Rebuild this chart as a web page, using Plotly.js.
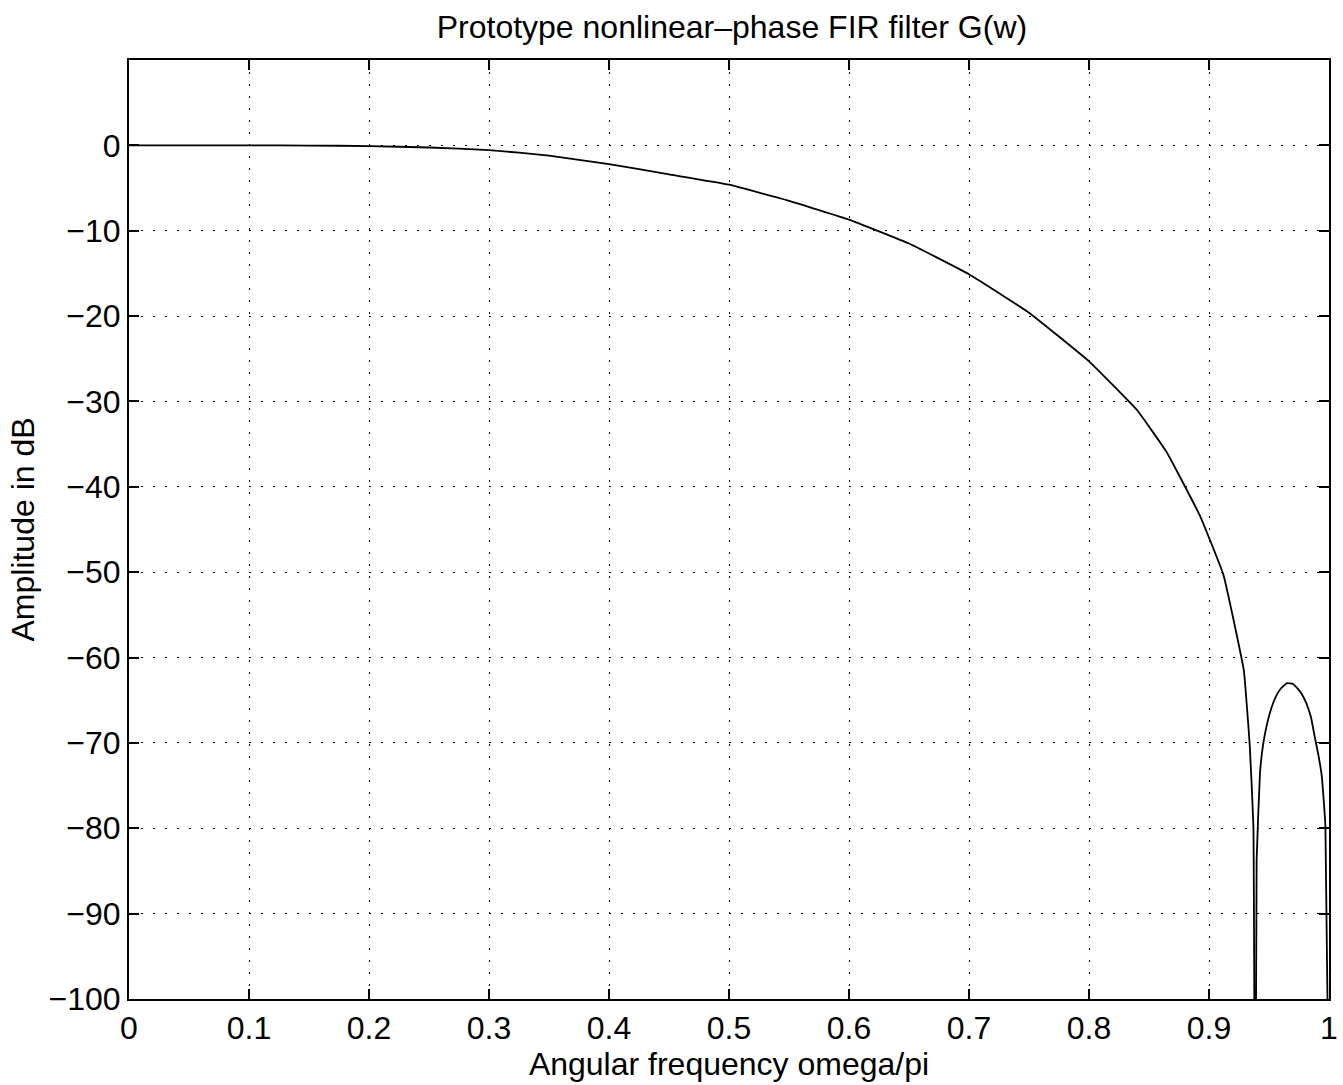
<!DOCTYPE html>
<html>
<head>
<meta charset="utf-8">
<script src="https://cdn.plot.ly/plotly-3.0.1.min.js"></script>
<style>
html, body { margin: 0; padding: 0; background: #fff; }
#chart { width: 1343px; height: 1085px; }
</style>
</head>
<body>
<div id="chart"></div>
<script>
// Normalized angular frequency (omega/pi)
const freq = [0, 0.05, 0.1, 0.15, 0.2, 0.25, 0.3, 0.35, 0.4, 0.45, 0.5, 0.55, 0.6, 0.65, 0.7,
  0.75, 0.8, 0.84, 0.865, 0.8925, 0.912, 0.929, 0.934, 0.937, 0.9385, 0.9397, 0.9425, 0.945,
  0.948, 0.952, 0.956, 0.96, 0.965, 0.97, 0.973, 0.977, 0.981, 0.985, 0.988, 0.991, 0.994,
  0.997, 1.0];
// Amplitude in dB
const ampDb = [0, 0, 0, -0.02, -0.08, -0.25, -0.55, -1.2, -2.2, -3.4, -4.6, -6.5, -8.7, -11.5, -15.1,
  -19.6, -25.3, -31.0, -36.0, -43.4, -50.3, -61.5, -70.4, -79.7, -130, -83.7, -73.5, -70.3,
  -68.0, -65.9, -64.5, -63.6, -63.0, -63.1, -63.5, -64.2, -65.3, -67.0, -69.2, -71.3, -73.9,
  -79.7, -115];

const xTickVals = [0, 0.1, 0.2, 0.3, 0.4, 0.5, 0.6, 0.7, 0.8, 0.9, 1];
const xTickText = ['0', '0.1', '0.2', '0.3', '0.4', '0.5', '0.6', '0.7', '0.8', '0.9', '1'];
const yTickVals = [-100, -90, -80, -70, -60, -50, -40, -30, -20, -10, 0];
const yTickText = ['\u2212100', '\u221290', '\u221280', '\u221270', '\u221260', '\u221250', '\u221240', '\u221230', '\u221220', '\u221210', '0'];

const titleText = 'Prototype nonlinear\u2013phase FIR filter G(w)';
const xTitle = 'Angular frequency omega/pi';
const yTitle = 'Amplitude in dB';

const FONT = '"Liberation Sans", Arial, Helvetica, sans-serif';

const trace = {
  x: freq, y: ampDb, type: 'scatter', mode: 'lines',
  line: { color: '#000', width: 1.8, shape: 'spline', smoothing: 0.3 },
  hoverinfo: 'skip'
};

const axisCommon = {
  showline: true, linecolor: '#000', linewidth: 2, mirror: 'ticks',
  ticks: 'inside', ticklen: 10, tickwidth: 2, tickcolor: '#000',
  showgrid: true, gridcolor: '#000', gridwidth: 1, griddash: '1.5px,10.5px',
  zeroline: false,
  tickfont: { family: FONT, size: 32, color: '#000' }
};

const layout = {
  width: 1343, height: 1085,
  paper_bgcolor: '#fff', plot_bgcolor: '#fff',
  margin: { l: 129, r: 14, t: 60, b: 86 },
  showlegend: false,
  font: { family: FONT, color: '#000' },
  title: { text: titleText, font: { family: FONT, size: 32, color: '#000' },
    x: 0.545, xanchor: 'center', y: 0.975, yanchor: 'middle' },
  xaxis: Object.assign({}, axisCommon, {
    range: [0, 1], tickvals: xTickVals, ticktext: xTickText,
    ticklabelstandoff: 0,
    title: { text: xTitle, font: { family: FONT, size: 32, color: '#000' }, standoff: 2 }
  }),
  yaxis: Object.assign({}, axisCommon, {
    range: [-100, 10], tickvals: yTickVals, ticktext: yTickText,
    ticklabelstandoff: 0,
    title: { text: yTitle, font: { family: FONT, size: 32, color: '#000' }, standoff: 4 }
  })
};

Plotly.newPlot('chart', [trace], layout, { displayModeBar: false, staticPlot: true });
</script>
</body>
</html>
